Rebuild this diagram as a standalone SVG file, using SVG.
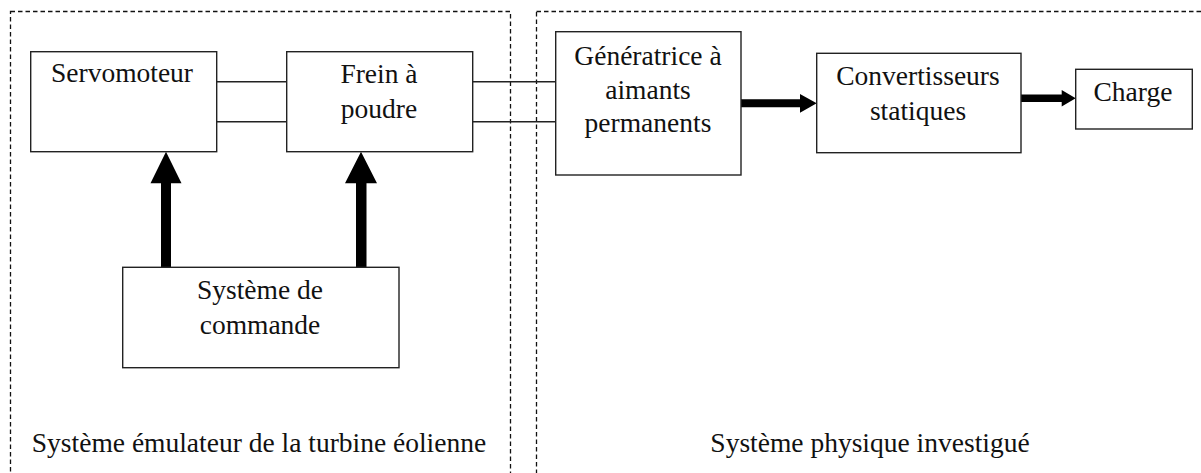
<svg xmlns="http://www.w3.org/2000/svg" width="1201" height="473" viewBox="0 0 1201 473">
<style>
.box{fill:#fff;stroke:#222;stroke-width:1.4}
.zone{fill:none;stroke:#111;stroke-width:1.3;stroke-dasharray:4.5 3}
.t{font-family:"Liberation Serif","Times New Roman",serif;font-size:27.5px;fill:#111;text-anchor:middle}
.ln{stroke:#222;stroke-width:1.4;fill:none}
.ar{fill:#000}
</style>
<rect width="1201" height="473" fill="#fff"/>
<g id="zone-emulateur">
<rect class="zone" x="10.5" y="11.5" width="500" height="480"/>
<text class="t" x="259" y="452">Système émulateur de la turbine éolienne</text>
</g>
<g id="zone-physique">
<rect class="zone" x="536.5" y="11.5" width="700" height="480"/>
<text class="t" x="870" y="452">Système physique investigué</text>
</g>
<g id="connectors">
<line class="ln" x1="216.7" y1="81.7" x2="286.7" y2="81.7"/>
<line class="ln" x1="216.7" y1="121.7" x2="286.7" y2="121.7"/>
<line class="ln" x1="472.7" y1="81.7" x2="556" y2="81.7"/>
<line class="ln" x1="472.7" y1="121.7" x2="556" y2="121.7"/>
<polygon class="ar" points="161,267.3 161,183.3 150.5,183.3 166,151.7 181.5,183.3 171,183.3 171,267.3"/>
<polygon class="ar" points="356,267.3 356,183.3 345,183.3 361,151.7 377,183.3 366.5,183.3 366.5,267.3"/>
<polygon class="ar" points="741,99.3 800,99.3 800,94 816.7,103.3 800,112.7 800,107.3 741,107.3"/>
<polygon class="ar" points="1021,94.5 1061.7,94.5 1061.7,90 1075.7,98.3 1061.7,106.6 1061.7,102.1 1021,102.1"/>
</g>
<g id="servomoteur">
<rect class="box" x="30.7" y="51.7" width="186" height="100"/>
<text class="t" x="122" y="82">Servomoteur</text>
</g>
<g id="frein">
<rect class="box" x="286.7" y="51.7" width="186" height="100"/>
<text class="t" x="379" y="83">Frein à</text>
<text class="t" x="379" y="118">poudre</text>
</g>
<g id="commande">
<rect class="box" x="122.7" y="267.3" width="276.3" height="100.4"/>
<text class="t" x="260" y="299">Système de</text>
<text class="t" x="260" y="333.5">commande</text>
</g>
<g id="generatrice">
<rect class="box" x="555.7" y="31.7" width="185.3" height="143.3"/>
<text class="t" x="648" y="65">Génératrice à</text>
<text class="t" x="648" y="99">aimants</text>
<text class="t" x="648" y="132">permanents</text>
</g>
<g id="convertisseurs">
<rect class="box" x="816.7" y="53.3" width="204.3" height="99.4"/>
<text class="t" x="918" y="85">Convertisseurs</text>
<text class="t" x="918" y="120">statiques</text>
</g>
<g id="charge">
<rect class="box" x="1075.7" y="69.3" width="116.6" height="59.7"/>
<text class="t" x="1133" y="101">Charge</text>
</g>
</svg>
